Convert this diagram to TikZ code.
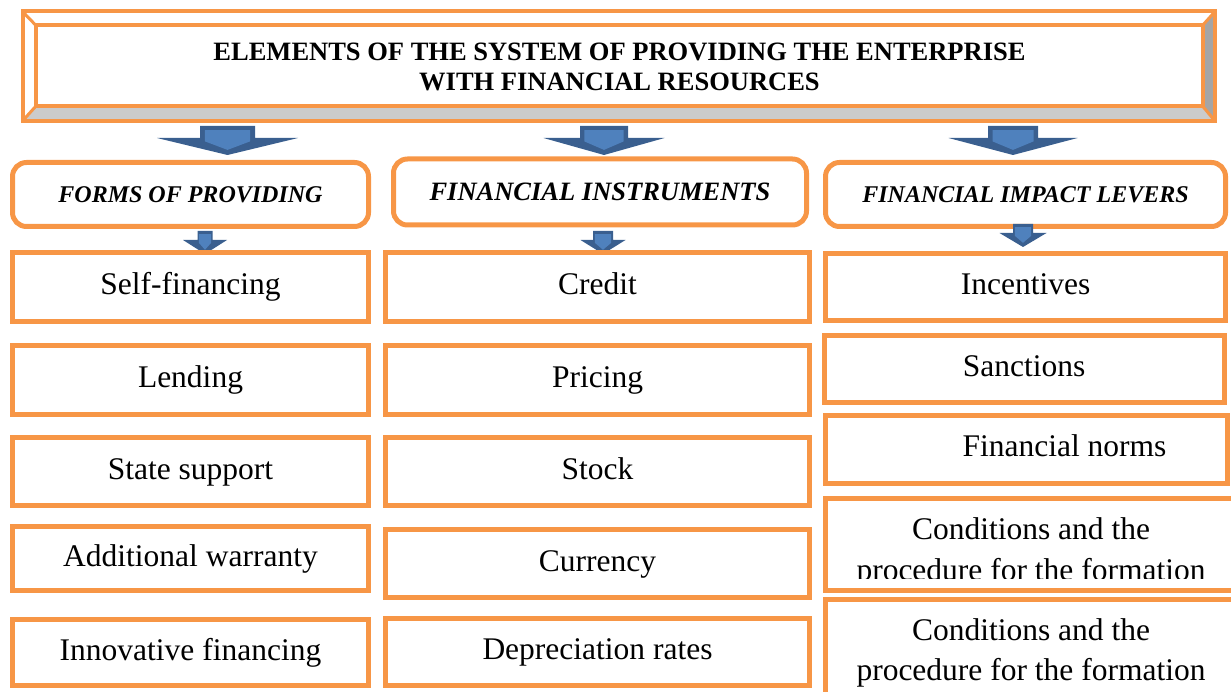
\documentclass[tikz,border=0pt]{standalone}
\usepackage{fontspec}
\setmainfont{Liberation Serif}
\usepackage{xcolor}

\definecolor{boxorange}{HTML}{F79646}
\definecolor{arrowdark}{HTML}{3A5F8F}
\definecolor{arrowlight}{HTML}{4F81BD}
\definecolor{bevellight}{HTML}{CBCBCB}
\definecolor{beveldark}{HTML}{A5A5A5}

% block arrow: centre x, shaft half width, head half width, top y, head y, tip y
\newcommand{\fatarrow}[6]{%
  \fill[arrowdark] (#1-#2,#4) -- (#1+#2,#4) -- (#1+#2,#5) -- (#1+#3,#5)
    -- (#1,#6) -- (#1-#3,#5) -- (#1-#2,#5) -- cycle;
  \fill[arrowlight] (#1-#2+0.18*#2,#4+0.35*#5-0.35*#4) -- (#1+#2-0.18*#2,#4+0.35*#5-0.35*#4)
    -- (#1+#2-0.18*#2,#5+0.2*#6-0.2*#5) -- (#1,#5+0.7*#6-0.7*#5)
    -- (#1-#2+0.18*#2,#5+0.2*#6-0.2*#5) -- cycle;
}

\tikzset{
  itembox/.style={draw=boxorange,line width=5pt,inner sep=0pt,
    text height=15pt,text depth=0pt,font=\fontsize{31.5}{40}\selectfont},
  itemtext/.style={inner sep=0pt,anchor=base,font=\fontsize{31.5}{40}\selectfont},
  headbox/.style={draw=boxorange,line width=5pt,rounded corners=14pt,inner sep=0pt,
    text height=17pt,text depth=0pt,font=\fontsize{24}{28}\selectfont\bfseries\itshape},
  titletext/.style={inner sep=0pt,anchor=base,font=\fontsize{26.5}{30}\selectfont\bfseries},
  colA/.style={minimum width=356pt},
  colB/.style={minimum width=424pt},
  colC/.style={minimum width=400pt},
}

\begin{document}
\begin{tikzpicture}[x=1pt,y=-1pt]
\useasboundingbox (0,0) rectangle (1231,692);
\clip (0,0) rectangle (1231,692);

% title frame
\fill[white] (22.5,11.5) rectangle (1215,121);
\fill[bevellight] (22.5,121) -- (1215,121) -- (1202.5,106) -- (36,106) -- cycle;
\fill[beveldark] (1215,11.5) -- (1215,121) -- (1202.5,106) -- (1202.5,25.5) -- cycle;
\draw[boxorange,line width=4pt] (22.5,11.5) rectangle (1215,121);
\draw[boxorange,line width=4pt] (36,25.5) rectangle (1202.5,106);
\draw[boxorange,line width=3pt] (22.5,11.5) -- (36,25.5) (1215,11.5) -- (1202.5,25.5)
  (22.5,121) -- (36,106) (1215,121) -- (1202.5,106);
\node[titletext] (t1) at (619.5,61) {ELEMENTS OF THE SYSTEM OF PROVIDING THE ENTERPRISE};
\node[titletext] (t2) at (619.5,91) {WITH FINANCIAL RESOURCES};

% big arrows
\fatarrow{227.5}{27.5}{70.5}{126}{138}{155}
\fatarrow{604}{24}{60.5}{126}{138}{155}
\fatarrow{1013}{25}{64.5}{126}{138}{155}

% headers
\node[headbox,minimum width=356pt,minimum height=64pt] (forms) at (190.5,194.5) {FORMS OF PROVIDING};
\node[headbox,minimum width=413pt,minimum height=66pt,text height=18pt,
  font=\fontsize{26.5}{30}\selectfont\bfseries\itshape] (instr) at (600,192) {FINANCIAL INSTRUMENTS};
\node[headbox,minimum width=400pt,minimum height=64pt] (levers) at (1025.5,194.5) {FINANCIAL IMPACT LEVERS};

% small arrows
\fatarrow{205}{7.5}{22}{231}{240}{254}
\fatarrow{603}{10}{22.5}{231}{240}{254}
\fatarrow{1023}{10}{23.5}{224}{233}{247}

% forms of providing
\node[itembox,colA,minimum height=69pt] (selffin) at (190.5,287) {Self-financing};
\node[itembox,colA,minimum height=69pt] (lending) at (190.5,380) {Lending};
\node[itembox,colA,minimum height=68pt] (state) at (190.5,471.5) {State support};
\node[itembox,colA,minimum height=64pt] (warranty) at (190.5,558.5) {Additional warranty};
\node[itembox,colA,minimum height=66pt] (innov) at (190.5,652.5) {Innovative financing};

% financial instruments
\node[itembox,colB,minimum height=69pt] (credit) at (597.5,287) {Credit};
\node[itembox,colB,minimum height=69pt] (pricing) at (597.5,380) {Pricing};
\node[itembox,colB,minimum height=68pt] (stock) at (597.5,471.5) {Stock};
\node[itembox,colB,minimum height=68pt] (currency) at (597.5,563.5) {Currency};
\node[itembox,colB,minimum height=67pt] (deprec) at (597.5,652) {Depreciation rates};

% financial impact levers
\node[itembox,colC,minimum height=67pt] (incent) at (1025.5,287) {Incentives};
\node[itembox,colC,minimum height=67pt] (sanct) at (1024,369) {Sanctions};
\node[itembox,minimum width=402pt,minimum height=68pt] (norms) at (1026.5,449.5) {};
\node[itemtext] (normstxt) at (1064.5,456) {Financial norms};
\node[itembox,minimum width=414.5pt,minimum height=92pt] (cond1) at (1032.75,544.5) {};
\begin{scope}
  \clip (823,499) rectangle (1231,578);
  \node[itemtext] (cond1a) at (1031,539) {Conditions and the};
  \node[itemtext] (cond1b) at (1031,580) {procedure for the formation};
\end{scope}
\node[itembox,minimum width=414.5pt,minimum height=160pt] (cond2) at (1032.75,679.5) {};
\node[itemtext] (cond2a) at (1031,640) {Conditions and the};
\node[itemtext] (cond2b) at (1031,680) {procedure for the formation};
\end{tikzpicture}
\end{document}
